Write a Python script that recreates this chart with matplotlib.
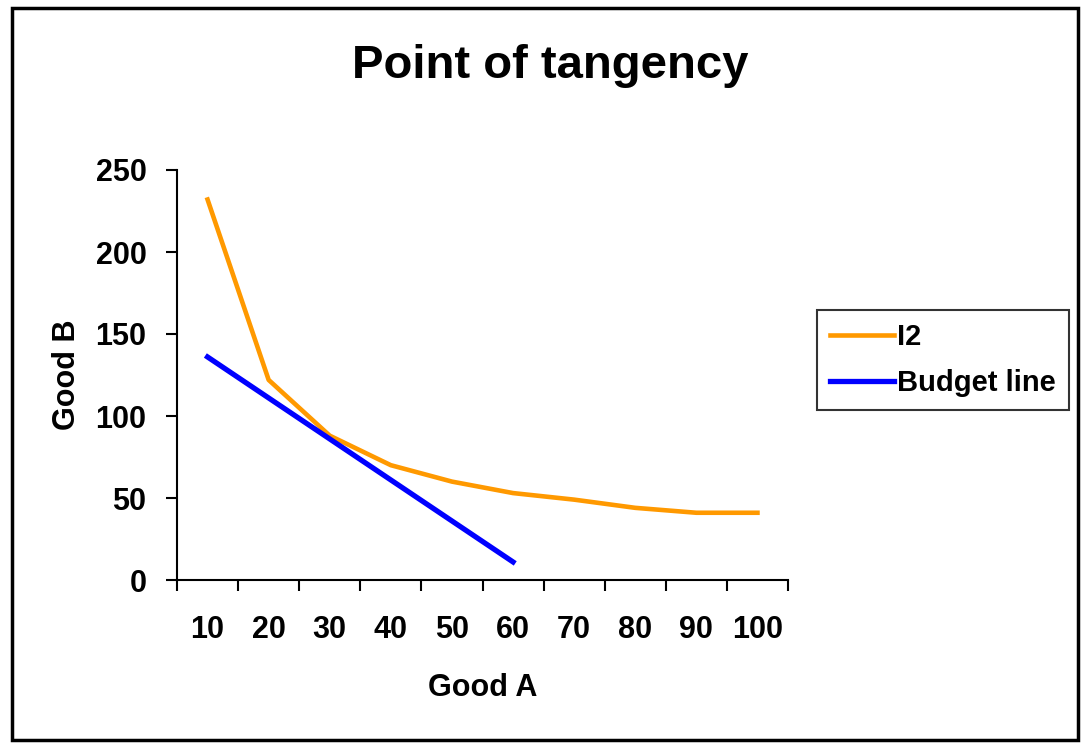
import matplotlib
matplotlib.use("Agg")
import matplotlib.pyplot as plt
from matplotlib.patches import Rectangle

# data
good_a = ["10", "20", "30", "40", "50", "60", "70", "80", "90", "100"]
i2_values = [232, 122, 88, 70, 60, 53, 49, 44, 41, 41]
budget_values = [136, 111, 86, 61, 36, 11]
y_ticks = [0, 50, 100, 150, 200, 250]

plt.rcParams["font.family"] = ["Liberation Sans", "DejaVu Sans"]
plt.rcParams["font.weight"] = "bold"

fig = plt.figure(figsize=(10.83, 7.44), dpi=100)
fig.patch.set_facecolor("white")
fig.patches.append(Rectangle((12 / 1083, 4 / 744), 1066 / 1083, 732 / 744, transform=fig.transFigure,
                             fill=False, edgecolor="black", linewidth=2.5))

ax = fig.add_axes([177 / 1083, 1 - 580 / 744, (788 - 177) / 1083, (580 - 170) / 744])

x_i2 = list(range(len(i2_values)))
x_budget = list(range(len(budget_values)))
ax.plot(x_i2, i2_values, color="#FF9900", linewidth=3.3, label="I2")
ax.plot(x_budget, budget_values, color="#0000FF", linewidth=3.8, label="Budget line")

ax.set_xlim(-0.5, len(good_a) - 0.5)
ax.set_ylim(0, 250)
ax.set_yticks(y_ticks)
ax.set_xticks(x_i2)
ax.set_xticklabels(good_a)
# category boundaries carry the tick marks, labels sit in between
ax.set_xticks([i - 0.5 for i in range(len(good_a) + 1)], minor=True)
ax.tick_params(axis="x", which="major", length=0, pad=25, labelsize=22)
ax.tick_params(axis="x", which="minor", length=8, width=1.5, direction="out")
ax.tick_params(axis="y", length=8, width=1.5, direction="out", pad=14, labelsize=22)

for side in ["top", "right"]:
    ax.spines[side].set_visible(False)
for side in ["left", "bottom"]:
    ax.spines[side].set_linewidth(1.5)

ax.set_xlabel("Good A", fontsize=22, fontweight="bold", labelpad=20)
ax.set_ylabel("Good B", fontsize=22, fontweight="bold", labelpad=10)

fig.text(550 / 1083, 1 - 66 / 744, "Point of tangency", ha="center", va="center",
         fontsize=34, fontweight="bold")

leg = fig.legend(loc="center left", bbox_to_anchor=(817 / 1083, 1 - 360 / 744), frameon=True,
                 fancybox=False, edgecolor="black", fontsize=21, handlelength=2.2,
                 handletextpad=0.1, borderpad=0.45, labelspacing=0.6, borderaxespad=0)
leg.get_frame().set_linewidth(1.5)

fig.savefig("out.png", dpi=100)
